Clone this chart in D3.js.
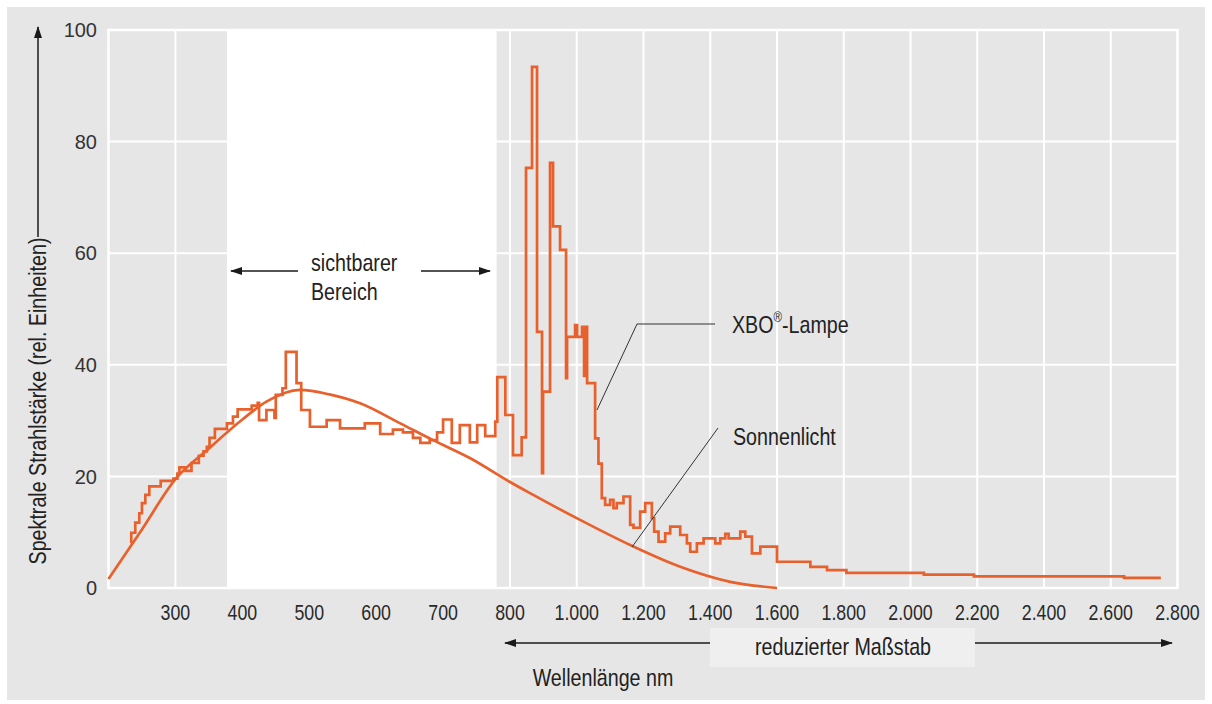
<!DOCTYPE html>
<html><head><meta charset="utf-8">
<script src="https://cdn.jsdelivr.net/npm/d3@7"></script>
<style>
html,body{margin:0;padding:0;background:#fff;}
svg{display:block;}
</style></head>
<body><svg id="chart" width="1212" height="704"></svg>
<script>
// ---------- data ----------
const yTicks = [0, 20, 40, 60, 80, 100];
const xTicks = [300, 400, 500, 600, 700, 800, 1000, 1200, 1400, 1600, 1800, 2000, 2200, 2400, 2600, 2800];
const xTickLabels = ["300","400","500","600","700","800","1.000","1.200","1.400","1.600","1.800","2.000","2.200","2.400","2.600","2.800"];
const visibleRange = [377, 780];

// Sonnenlicht (smooth curve)
const sunWavelength = [200, 250, 300, 350, 400, 436, 486, 530, 576, 636, 685, 740, 800, 860, 1010, 1160, 1310, 1460, 1600];
const sunValue      = [1.6, 10.5, 19.5, 25.0, 30.2, 33.4, 35.5, 34.7, 33.1, 29.5, 26.5, 23.3, 19.0, 17.0, 12.2, 7.7, 3.8, 1.1, 0];

// XBO-Lampe (step curve: value holds from the given wavelength on)
const xboStart = [234, 234, 240, 246, 250, 255, 261, 278, 297, 303, 306, 315, 324, 335, 342, 347, 351, 359, 377, 386, 393, 414, 423, 425, 436, 448, 450, 460, 465, 481, 488, 501, 526, 546, 583, 606, 625, 640, 655, 666, 680, 691, 700, 713, 725, 740, 751, 763, 778, 781, 793, 809, 835, 848, 866, 881, 896, 899, 920, 929, 950, 968, 971, 995, 1001, 1016, 1022, 1025, 1031, 1055, 1065, 1075, 1085, 1100, 1110, 1120, 1140, 1160, 1170, 1190, 1205, 1225, 1232, 1245, 1265, 1280, 1310, 1330, 1340, 1360, 1380, 1415, 1430, 1445, 1455, 1490, 1505, 1525, 1550, 1600, 1700, 1750, 1808, 2040, 2190, 2640];
const xboValue = [8.0, 9.9, 11.7, 13.4, 15.2, 16.7, 18.2, 19.2, 19.6, 20.5, 21.6, 21.0, 22.4, 23.7, 24.5, 25.3, 26.9, 28.5, 29.5, 30.7, 32.0, 32.7, 33.2, 30.1, 31.9, 30.5, 34.6, 35.8, 42.3, 36.7, 31.9, 28.9, 30.1, 28.6, 29.5, 27.6, 28.4, 27.9, 26.9, 26.0, 26.5, 27.9, 30.2, 26.0, 29.2, 26.1, 29.2, 27.2, 29.8, 37.8, 31.0, 23.8, 27.0, 75.3, 93.4, 45.9, 20.6, 35.2, 76.2, 64.8, 60.6, 37.6, 45.0, 47.1, 45.0, 46.8, 38.0, 46.8, 36.7, 26.8, 22.3, 16.1, 14.9, 15.8, 14.3, 15.2, 16.4, 11.3, 10.8, 13.7, 15.2, 12.5, 10.1, 8.3, 9.8, 11.0, 9.5, 8.0, 6.5, 8.0, 8.9, 8.0, 8.9, 9.7, 8.9, 10.1, 9.2, 6.2, 7.4, 4.7, 3.8, 3.2, 2.7, 2.4, 2.1, 1.8];
const xboEnd = 2750;

// ---------- layout ----------
const FONT = "'Liberation Sans',Arial,Helvetica,sans-serif";
const SX = 0.82; // horizontal squeeze to mimic a condensed face
const ORANGE = "#e8602c";
const BG = "#e6e6e7";
const INK = "#222";

const svg = d3.select("#chart");
const x = d3.scaleLinear().domain([200, 800, 2800]).range([108.5, 510, 1177.5]);
const y = d3.scaleLinear().domain([0, 100]).range([588, 30]);

function condText(parent, px, py, str, size, anchor, rot, sx) {
  return parent.append("text")
    .attr("transform", `translate(${px},${py})` + (rot ? ` rotate(${rot})` : "") + ` scale(${sx || SX},1)`)
    .attr("dy", "0.36em").attr("text-anchor", anchor || "start")
    .attr("font-family", FONT).attr("font-size", size).attr("fill", INK).text(str);
}

svg.append("rect").attr("x", 7).attr("y", 7).attr("width", 1198).attr("height", 693).attr("fill", BG);

// plot frame (white border)
svg.append("rect").attr("x", x(200)).attr("y", y(100)).attr("width", x(2800) - x(200)).attr("height", y(0) - y(100))
  .attr("fill", BG).attr("stroke", "#fff").attr("stroke-width", 2.5);

// grid
const grid = svg.append("g");
grid.selectAll("line.v").data(xTicks).join("line")
  .attr("x1", d => x(d)).attr("x2", d => x(d)).attr("y1", y(0)).attr("y2", y(100))
  .attr("stroke", "#fff").attr("stroke-width", 2);
grid.selectAll("line.h").data(yTicks).join("line")
  .attr("x1", x(200)).attr("x2", x(2800)).attr("y1", d => y(d)).attr("y2", d => y(d))
  .attr("stroke", "#fff").attr("stroke-width", 2);

// visible band
svg.append("rect").attr("x", x(visibleRange[0])).attr("y", y(100))
  .attr("width", x(visibleRange[1]) - x(visibleRange[0])).attr("height", y(0) - y(100)).attr("fill", "#fff");

// y tick labels
svg.append("g").selectAll("text").data(yTicks).join("text")
  .attr("x", 97).attr("y", d => y(d)).attr("dy", "0.36em").attr("text-anchor", "end")
  .attr("font-family", FONT).attr("font-size", 20).attr("fill", "#333").text(d => d);

// x tick labels
const xt = svg.append("g");
xTicks.forEach((d, i) => condText(xt, x(d), 612, xTickLabels[i], 22.5, "middle", 0, 0.79).attr("fill", "#2a2a2a"));

// arrowheads
const defs = svg.append("defs");
defs.append("marker").attr("id", "arr").attr("viewBox", "0 0 12 8").attr("refX", 11).attr("refY", 4)
  .attr("markerWidth", 12).attr("markerHeight", 8).attr("markerUnits", "userSpaceOnUse").attr("orient", "auto")
  .append("path").attr("d", "M0,0 L12,4 L0,8 Z").attr("fill", "#1a1a1a");

// Sonnenlicht
const sunPts = sunWavelength.map((w, i) => [w, sunValue[i]]);
svg.append("path").datum(sunPts)
  .attr("d", d3.line().x(d => x(d[0])).y(d => y(d[1])).curve(d3.curveMonotoneX))
  .attr("fill", "none").attr("stroke", ORANGE).attr("stroke-width", 2.7);

// XBO
const xboPts = xboStart.map((w, i) => [w, xboValue[i]]);
xboPts.push([xboEnd, xboValue[xboValue.length - 1]]);
svg.append("path").datum(xboPts)
  .attr("d", d3.line().x(d => x(d[0])).y(d => y(d[1])).curve(d3.curveStepAfter))
  .attr("fill", "none").attr("stroke", ORANGE).attr("stroke-width", 2.7).attr("stroke-linejoin", "miter");

// visible range annotation
const ay = 271;
svg.append("line").attr("x1", 298).attr("x2", 231).attr("y1", ay).attr("y2", ay)
  .attr("stroke", "#1a1a1a").attr("stroke-width", 1.5).attr("marker-end", "url(#arr)");
svg.append("line").attr("x1", 421).attr("x2", 490).attr("y1", ay).attr("y2", ay)
  .attr("stroke", "#1a1a1a").attr("stroke-width", 1.5).attr("marker-end", "url(#arr)");
condText(svg, 311, 262, "sichtbarer", 24);
condText(svg, 311, 291, "Bereich", 24);

// XBO label + leader
svg.append("path").attr("d", "M715,324 L637,324 L597,410").attr("fill", "none").attr("stroke", "#333").attr("stroke-width", 1);
const xl = condText(svg, 732, 324, "", 24);
xl.append("tspan").text("XBO");
xl.append("tspan").attr("font-size", 14).attr("dy", "-0.75em").text("®");
xl.append("tspan").attr("dy", "0.44em").text("-Lampe");

// Sonnenlicht label + leader
svg.append("line").attr("x1", 718).attr("y1", 428).attr("x2", 632).attr("y2", 547).attr("stroke", "#333").attr("stroke-width", 1);
condText(svg, 733, 436, "Sonnenlicht", 24);

// y-axis title + arrow
condText(svg, 37, 401, "Spektrale Strahlstärke (rel. Einheiten)", 24, "middle", -90);
svg.append("line").attr("x1", 38).attr("x2", 38).attr("y1", 237).attr("y2", 27)
  .attr("stroke", "#1a1a1a").attr("stroke-width", 1.5).attr("marker-end", "url(#arr)");

// reduzierter Maßstab
svg.append("rect").attr("x", 710).attr("y", 628).attr("width", 265).attr("height", 39).attr("fill", "#efefef");
condText(svg, 843, 646, "reduzierter Maßstab", 24, "middle");
svg.append("line").attr("x1", 710).attr("x2", 505).attr("y1", 643).attr("y2", 643)
  .attr("stroke", "#1a1a1a").attr("stroke-width", 1.5).attr("marker-end", "url(#arr)");
svg.append("line").attr("x1", 975).attr("x2", 1172).attr("y1", 643).attr("y2", 643)
  .attr("stroke", "#1a1a1a").attr("stroke-width", 1.5).attr("marker-end", "url(#arr)");

condText(svg, 603, 677, "Wellenlänge nm", 24, "middle");
</script></body></html>
